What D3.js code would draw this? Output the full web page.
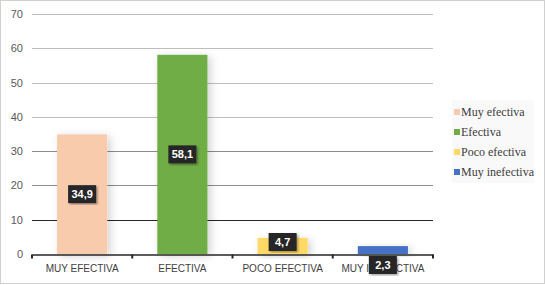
<!DOCTYPE html>
<html>
<head>
<meta charset="utf-8">
<script src="https://cdn.jsdelivr.net/npm/d3@7"></script>
<style>
  body { margin: 0; background: #fff; }
  svg { display: block; }
</style>
</head>
<body>
<div id="chart-area"></div>
<script>
// data
let categories = ["MUY EFECTIVA", "EFECTIVA", "POCO EFECTIVA", "MUY INEFECTIVA"];
let legendNames = ["Muy efectiva", "Efectiva", "Poco efectiva", "Muy inefectiva"];
let values = [34.9, 58.1, 4.7, 2.3];
let colors = ["#F8CBAD", "#70AD47", "#FFD966", "#4472C4"];
let yTicks = [0, 10, 20, 30, 40, 50, 60, 70];

let W = 545, H = 285;
let svg = d3.select("#chart-area")
            .append("svg")
            .attr("width", W)
            .attr("height", H);

let defs = svg.append("defs");
let shadow = defs.append("filter").attr("id", "shadow")
    .attr("x", "-30%").attr("y", "-30%").attr("width", "180%").attr("height", "160%");
shadow.append("feDropShadow")
    .attr("dx", 3).attr("dy", 2)
    .attr("stdDeviation", 4)
    .attr("flood-color", "#000")
    .attr("flood-opacity", 0.18);
let boxShadow = defs.append("filter").attr("id", "boxShadow");
boxShadow.append("feDropShadow")
    .attr("dx", 1.5).attr("dy", 1.5)
    .attr("stdDeviation", 1.2)
    .attr("flood-opacity", 0.35);

// outer frame
svg.append("rect")
    .attr("x", 0.5).attr("y", 0.5)
    .attr("width", W - 1).attr("height", H - 2)
    .attr("fill", "#fff")
    .attr("stroke", "#d0d0d0");

let x = d3.scaleBand()
        .domain(categories)
        .range([32, 433])
        .paddingInner(0.5)
        .paddingOuter(0.25);
let y = d3.scaleLinear()
        .domain([0, 70])
        .range([254, 14]);

// gridlines
let gridColor = function(t) {
    if (t <= 10) return "#262626";
    if (t <= 30) return "#8c8c8c";
    return "#bfbfbf";
};
svg.append("g").selectAll("line")
    .data(yTicks.filter(function(t){ return t > 0; }))
    .enter()
    .append("line")
    .attr("x1", 32).attr("x2", 433)
    .attr("y1", function(d){ return Math.round(y(d)) + 0.5; })
    .attr("y2", function(d){ return Math.round(y(d)) + 0.5; })
    .attr("stroke", gridColor)
    .attr("stroke-width", 1);

// y axis labels
let yAxis = svg.append("g")
    .attr("transform", "translate(32,0)")
    .call(d3.axisLeft(y).tickValues(yTicks).tickSize(0).tickPadding(9));
yAxis.select(".domain").remove();
yAxis.selectAll("text")
    .attr("font-family", "'Liberation Sans', Arial, sans-serif")
    .attr("font-size", "11px")
    .attr("fill", "#595959");

// bars
svg.append("g").selectAll("rect")
    .data(values)
    .enter()
    .append("rect")
    .attr("x", function(d, i){ return x(categories[i]); })
    .attr("y", function(d){ return y(d); })
    .attr("width", x.bandwidth())
    .attr("height", function(d){ return y(0) - y(d); })
    .attr("fill", function(d, i){ return colors[i]; })
    .attr("filter", "url(#shadow)");

// x axis
let xAxis = svg.append("g")
    .attr("transform", "translate(0," + (Math.round(y(0)) + 0.5) + ")")
    .call(d3.axisBottom(x).tickSize(0).tickPadding(10));
xAxis.select(".domain").attr("stroke", "#262626").attr("stroke-width", 1.5);
xAxis.selectAll("text")
    .attr("font-family", "'Liberation Sans', Arial, sans-serif")
    .attr("font-size", "10px")
    .attr("fill", "#404040");
let edges = d3.range(categories.length + 1).map(function(i){ return 32 + i * (401 / categories.length); });
xAxis.selectAll(".edge")
    .data(edges)
    .enter()
    .append("line")
    .attr("x1", function(d){ return d; })
    .attr("x2", function(d){ return d; })
    .attr("y1", 0).attr("y2", 4)
    .attr("stroke", "#262626")
    .attr("stroke-width", 2);

// data labels
let fmt = function(v){ return d3.format(".1f")(v).replace(".", ","); };
let boxW = 28, boxH = 18;
let labels = svg.append("g").selectAll("g")
    .data(values)
    .enter()
    .append("g")
    .attr("transform", function(d, i){
        let cx = x(categories[i]) + x.bandwidth() / 2;
        let barH = y(0) - y(d);
        let cy = (y(d) + y(0)) / 2;
        if (barH < 12) {
            cy = y(0) + 11;
        } else if (cy + boxH / 2 > y(0) - 3) {
            cy = y(0) - 3 - boxH / 2;
        }
        return "translate(" + cx + "," + cy + ")";
    });
labels.append("rect")
    .attr("x", -boxW / 2).attr("y", -boxH / 2)
    .attr("width", boxW).attr("height", boxH)
    .attr("fill", "#262626")
    .attr("filter", "url(#boxShadow)");
labels.append("text")
    .attr("text-anchor", "middle")
    .attr("dy", "0.36em")
    .attr("font-family", "'Liberation Sans', Arial, sans-serif")
    .attr("font-weight", "bold")
    .attr("font-size", "11px")
    .attr("fill", "#fff")
    .text(fmt);

// legend
let legend = svg.append("g").attr("transform", "translate(452,100)");
legend.append("rect")
    .attr("width", 82).attr("height", 83)
    .attr("fill", "#f9f9f9");
let items = legend.selectAll("g.item")
    .data(legendNames)
    .enter()
    .append("g")
    .attr("class", "item")
    .attr("transform", function(d, i){ return "translate(0," + (12 + i * 20) + ")"; });
items.append("rect")
    .attr("x", 2).attr("y", -3)
    .attr("width", 6).attr("height", 6)
    .attr("fill", function(d, i){ return colors[i]; });
items.append("text")
    .attr("x", 9)
    .attr("dy", "0.35em")
    .attr("font-family", "'Liberation Serif', 'Times New Roman', serif")
    .attr("font-size", "12px")
    .attr("fill", "#404040")
    .text(function(d){ return d; });
</script>
</body>
</html>
